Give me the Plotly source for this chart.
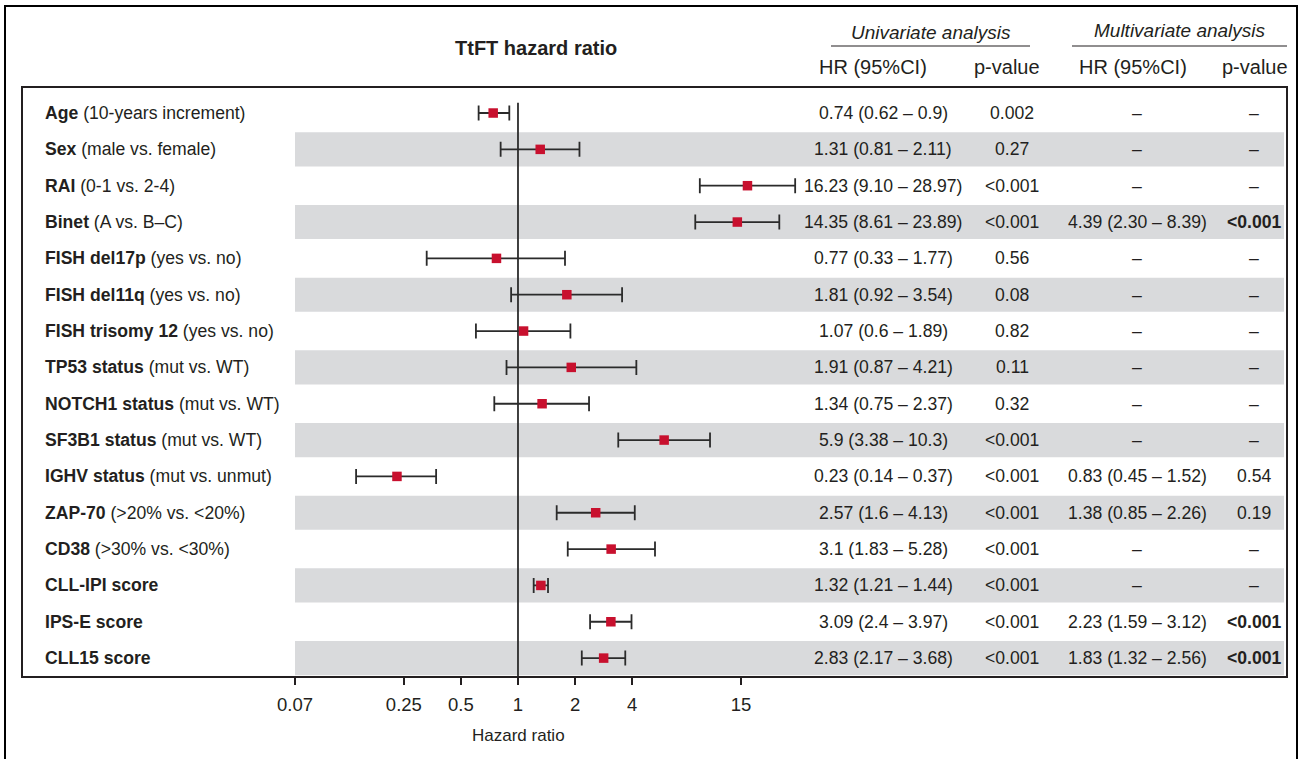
import plotly.graph_objects as go

# ---------------- data ----------------
label_bold = ["Age", "Sex", "RAI", "Binet", "FISH del17p", "FISH del11q",
              "FISH trisomy 12", "TP53 status", "NOTCH1 status", "SF3B1 status",
              "IGHV status", "ZAP-70", "CD38", "CLL-IPI score", "IPS-E score",
              "CLL15 score"]
label_rest = ["(10-years increment)", "(male vs. female)", "(0-1 vs. 2-4)",
              "(A vs. B\u2013C)", "(yes vs. no)", "(yes vs. no)", "(yes vs. no)",
              "(mut vs. WT)", "(mut vs. WT)", "(mut vs. WT)", "(mut vs. unmut)",
              "(&gt;20% vs. &lt;20%)", "(&gt;30% vs. &lt;30%)", "", "", ""]
hr = [0.74, 1.31, 16.23, 14.35, 0.77, 1.81, 1.07, 1.91, 1.34, 5.9, 0.23,
      2.57, 3.1, 1.32, 3.09, 2.83]
ci_low = [0.62, 0.81, 9.10, 8.61, 0.33, 0.92, 0.6, 0.87, 0.75, 3.38, 0.14,
          1.6, 1.83, 1.21, 2.4, 2.17]
ci_high = [0.9, 2.11, 28.97, 23.89, 1.77, 3.54, 1.89, 4.21, 2.37, 10.3, 0.37,
           4.13, 5.28, 1.44, 3.97, 3.68]
uni_hr_text = ["0.74 (0.62 \u2013 0.9)", "1.31 (0.81 \u2013 2.11)",
               "16.23 (9.10 \u2013 28.97)", "14.35 (8.61 \u2013 23.89)",
               "0.77 (0.33 \u2013 1.77)", "1.81 (0.92 \u2013 3.54)",
               "1.07 (0.6 \u2013 1.89)", "1.91 (0.87 \u2013 4.21)",
               "1.34 (0.75 \u2013 2.37)", "5.9 (3.38 \u2013 10.3)",
               "0.23 (0.14 \u2013 0.37)", "2.57 (1.6 \u2013 4.13)",
               "3.1 (1.83 \u2013 5.28)", "1.32 (1.21 \u2013 1.44)",
               "3.09 (2.4 \u2013 3.97)", "2.83 (2.17 \u2013 3.68)"]
uni_p = ["0.002", "0.27", "&lt;0.001", "&lt;0.001", "0.56", "0.08", "0.82", "0.11",
         "0.32", "&lt;0.001", "&lt;0.001", "&lt;0.001", "&lt;0.001", "&lt;0.001",
         "&lt;0.001", "&lt;0.001"]
multi_hr_text = ["\u2013", "\u2013", "\u2013", "4.39 (2.30 \u2013 8.39)", "\u2013",
                 "\u2013", "\u2013", "\u2013", "\u2013", "\u2013",
                 "0.83 (0.45 \u2013 1.52)", "1.38 (0.85 \u2013 2.26)", "\u2013",
                 "\u2013", "2.23 (1.59 \u2013 3.12)", "1.83 (1.32 \u2013 2.56)"]
multi_p = ["\u2013", "\u2013", "\u2013", "<b>&lt;0.001</b>", "\u2013", "\u2013",
           "\u2013", "\u2013", "\u2013", "\u2013", "0.54", "0.19", "\u2013",
           "\u2013", "<b>&lt;0.001</b>", "<b>&lt;0.001</b>"]
# axis spans 1/15 .. 15 symmetric; lowest tick (1/15) is labelled "0.07"
tick_vals = [1 / 15, 0.25, 0.5, 1, 2, 4, 15]
tick_text = ["0.07", "0.25", "0.5", "1", "2", "4", "15"]

# ---------------- geometry helpers (screen px -> paper) ----------------
W, H = 1301, 759
ML, MT = 22, 87
MR = W - 1287
MB = H - 677
PW = W - ML - MR
PH = H - MT - MB


def px(x):
    return (x - ML) / PW


def py(y):
    return (H - MB - y) / PH


n = len(hr)
rows = list(range(n))
FONT = "Liberation Sans, Arial, Helvetica, sans-serif"
TXT = "#231f20"

fig = go.Figure()

# reference line at HR = 1
fig.add_trace(go.Scatter(x=[1, 1], y=[-0.28, 15.52], mode="lines",
                         line=dict(color="#2b2b2b", width=1.8),
                         hoverinfo="skip", showlegend=False))

# point estimates with CIs
fig.add_trace(go.Scatter(
    x=hr, y=rows, mode="markers",
    marker=dict(symbol="square", size=9.5, color="#c8102e"),
    error_x=dict(type="data", symmetric=False,
                 array=[h - m for h, m in zip(ci_high, hr)],
                 arrayminus=[m - l for m, l in zip(hr, ci_low)],
                 color="#2b2b2b", thickness=1.8, width=7.5),
    showlegend=False, hoverinfo="skip"))

shapes = []
# alternating grey bands
for r in rows:
    if r % 2 == 1:
        shapes.append(dict(type="rect", xref="paper", yref="y",
                           x0=px(295), x1=px(1284), y0=r - 0.47, y1=r + 0.47,
                           fillcolor="#d9dadc", line=dict(width=0), layer="below"))
# panel box
shapes.append(dict(type="rect", xref="paper", yref="paper", x0=0, x1=1, y0=0, y1=1,
                   line=dict(color="#231f20", width=2), fillcolor="rgba(0,0,0,0)",
                   layer="above"))
# outer frame
shapes.append(dict(type="rect", xref="paper", yref="paper", x0=px(5), x1=px(1297),
                   y0=py(820), y1=py(6), line=dict(color="#000000", width=2),
                   fillcolor="rgba(0,0,0,0)", layer="above"))
# header underlines
shapes.append(dict(type="line", xref="paper", yref="paper", x0=px(831), x1=px(1030),
                   y0=py(46), y1=py(46), line=dict(color="#231f20", width=1.2)))
shapes.append(dict(type="line", xref="paper", yref="paper", x0=px(1072), x1=px(1287),
                   y0=py(46), y1=py(46), line=dict(color="#231f20", width=1.2)))

ann = []
for r in rows:
    t = "<b>" + label_bold[r] + "</b>"
    if label_rest[r]:
        t += " " + label_rest[r]
    ann.append(dict(x=px(43), y=r, xref="paper", yref="y", text=t, showarrow=False,
                    xanchor="left", yanchor="middle",
                    font=dict(family=FONT, size=17.6, color=TXT)))
    ann.append(dict(x=px(883), y=r, xref="paper", yref="y", text=uni_hr_text[r],
                    showarrow=False, xanchor="center", yanchor="middle",
                    font=dict(family=FONT, size=17.6, color=TXT)))
    ann.append(dict(x=px(1012), y=r, xref="paper", yref="y", text=uni_p[r],
                    showarrow=False, xanchor="center", yanchor="middle",
                    font=dict(family=FONT, size=17.6, color=TXT)))
    ann.append(dict(x=px(1137), y=r, xref="paper", yref="y", text=multi_hr_text[r],
                    showarrow=False, xanchor="center", yanchor="middle",
                    font=dict(family=FONT, size=17.6, color=TXT)))
    ann.append(dict(x=px(1254), y=r, xref="paper", yref="y", text=multi_p[r],
                    showarrow=False, xanchor="center", yanchor="middle",
                    font=dict(family=FONT, size=17.6, color=TXT)))

# headers
ann.append(dict(x=px(536), y=py(48), xref="paper", yref="paper",
                text="<b>TtFT hazard ratio</b>", showarrow=False,
                xanchor="center", yanchor="middle",
                font=dict(family=FONT, size=20, color=TXT)))
ann.append(dict(x=px(931), y=py(32), xref="paper", yref="paper",
                text="<i>Univariate analysis</i>", showarrow=False,
                xanchor="center", yanchor="middle",
                font=dict(family=FONT, size=19, color=TXT)))
ann.append(dict(x=px(1180), y=py(30), xref="paper", yref="paper",
                text="<i>Multivariate analysis</i>", showarrow=False,
                xanchor="center", yanchor="middle",
                font=dict(family=FONT, size=19, color=TXT)))
for xc, t in [(873, "HR (95%CI)"), (1007, "p-value"), (1133, "HR (95%CI)"),
              (1255, "p-value")]:
    ann.append(dict(x=px(xc), y=py(67), xref="paper", yref="paper", text=t,
                    showarrow=False, xanchor="center", yanchor="middle",
                    font=dict(family=FONT, size=20, color=TXT)))
# axis title
ann.append(dict(x=px(518), y=py(735), xref="paper", yref="paper",
                text="Hazard ratio", showarrow=False, xanchor="center",
                yanchor="middle", font=dict(family=FONT, size=17, color=TXT)))

x0_log = -1.1761  # log10(1/15)
ppd = 189.6
x_end = x0_log + (1287 - 295) / ppd

fig.update_layout(
    width=W, height=H,
    margin=dict(l=ML, r=MR, t=MT, b=MB, pad=0, autoexpand=False),
    paper_bgcolor="white", plot_bgcolor="rgba(0,0,0,0)",
    shapes=shapes, annotations=ann,
    xaxis=dict(type="log", domain=[px(295), 1], range=[x0_log, x_end],
               tickvals=tick_vals, ticktext=tick_text, ticks="outside",
               ticklen=7, tickwidth=2, tickcolor="#231f20", ticklabelstandoff=4,
               showgrid=False, zeroline=False, showline=False, automargin=False,
               tickfont=dict(family=FONT, size=18.5, color=TXT)),
    yaxis=dict(range=[15.52, -0.716], visible=False, showgrid=False,
               zeroline=False, fixedrange=True),
    showlegend=False,
)

fig.write_html("out.html",
               config={"displayModeBar": False},
               post_script="document.body.style.margin='0';"
                           "document.body.style.overflow='hidden';")
